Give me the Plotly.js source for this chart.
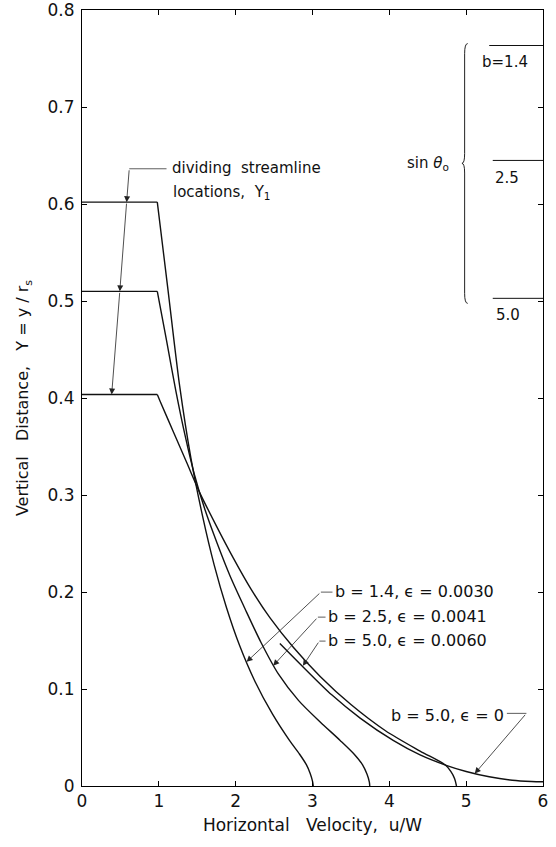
<!DOCTYPE html>
<html>
<head>
<meta charset="utf-8">
<script src="https://cdn.plot.ly/plotly-3.0.1.min.js"></script>
<style>
  html, body { margin: 0; padding: 0; background: #fff; }
  #chart { width: 556px; height: 847px; }
</style>
</head>
<body>
<div id="chart"></div>
<script>
// ---- data ----
// b = 1.4, eps = 0.0030
const u_b14 = [0, 0.98, 1.12, 1.27, 1.42, 1.57, 1.72, 1.88, 2.05, 2.25, 2.48, 2.70, 2.83, 2.92, 2.97, 3.00, 3.01];
const Y_b14 = [0.602, 0.602, 0.511, 0.413, 0.337, 0.278, 0.228, 0.184, 0.145, 0.108, 0.074, 0.047, 0.033, 0.022, 0.013, 0.005, 0];
// b = 2.5, eps = 0.0041
const u_b25 = [0, 0.98, 1.10, 1.22, 1.34, 1.46, 1.60, 1.76, 1.93, 2.12, 2.33, 2.56, 2.82, 3.10, 3.36, 3.54, 3.65, 3.71, 3.74, 3.745];
const Y_b25 = [0.510, 0.510, 0.4595, 0.408, 0.362, 0.322, 0.285, 0.250, 0.216, 0.183, 0.148, 0.115, 0.088, 0.066, 0.047, 0.033, 0.022, 0.012, 0.004, 0];
// b = 5.0, eps = 0.0060
const u_b50 = [0, 0.98, 1.015, 1.19, 1.36, 1.535, 1.75, 1.97, 2.20, 2.45, 2.75, 3.10, 3.50, 3.95, 4.40, 4.73, 4.80, 4.85, 4.874];
const Y_b50 = [0.4036, 0.4036, 0.397, 0.365, 0.334, 0.302, 0.268, 0.235, 0.203, 0.173, 0.143, 0.113, 0.084, 0.057, 0.036, 0.0216, 0.015, 0.0075, 0];
// b = 5.0, eps = 0
const u_b50e0 = [2.575, 2.90, 3.25, 3.62, 4.05, 4.40, 4.73, 5.00, 5.30, 5.60, 5.85, 6.0];
const Y_b50e0 = [0.147, 0.121, 0.094, 0.070, 0.047, 0.032, 0.0216, 0.0150, 0.0095, 0.0060, 0.0047, 0.0044];

// axis ticks
const xTicks = [0, 1, 2, 3, 4, 5, 6];
const xTickText = ['0', '1', '2', '3', '4', '5', '6'];
const yTicks = [0, 0.1, 0.2, 0.3, 0.4, 0.5, 0.6, 0.7, 0.8];
const yTickText = ['0', '0.1', '0.2', '0.3', '0.4', '0.5', '0.6', '0.7', '0.8'];

// sin(theta_0) marks on the right edge
const sinLabels = ['b=1.4', '2.5', '5.0'];
const sinValues = [0.7635, 0.645, 0.5028];

const FONT = 'DejaVu Sans, Liberation Sans, Arial, sans-serif';
const INK = '#111';
const NB = '\u00a0';

const lineStyle = { color: INK, width: 1.4 };
const curves = [
  { u: u_b14, Y: Y_b14, name: 'b=1.4, ε=0.0030', plateau: true },
  { u: u_b25, Y: Y_b25, name: 'b=2.5, ε=0.0041', plateau: true },
  { u: u_b50, Y: Y_b50, name: 'b=5.0, ε=0.0060', plateau: true },
  { u: u_b50e0, Y: Y_b50e0, name: 'b=5.0, ε=0', plateau: false }
];
const traces = [];
curves.forEach(c => {
  if (c.plateau) {
    // flat part up to the dividing streamline, then the smooth profile
    traces.push({ type: 'scatter', mode: 'lines', x: c.u.slice(0, 2), y: c.Y.slice(0, 2), name: c.name,
      line: lineStyle, hoverinfo: 'skip' });
    traces.push({ type: 'scatter', mode: 'lines', x: c.u.slice(1), y: c.Y.slice(1), name: c.name,
      line: Object.assign({ shape: 'spline', smoothing: 0.8 }, lineStyle), hoverinfo: 'skip' });
  } else {
    traces.push({ type: 'scatter', mode: 'lines', x: c.u, y: c.Y, name: c.name,
      line: Object.assign({ shape: 'spline', smoothing: 0.8 }, lineStyle), hoverinfo: 'skip' });
  }
});

const thin = { color: '#333', width: 0.8 };
const shapes = [];
const annotations = [];

function arrow(x, y, ax, ay) {
  annotations.push({
    x: x, y: y, ax: ax, ay: ay, xref: 'x', yref: 'y', axref: 'x', ayref: 'y',
    text: '', showarrow: true, arrowhead: 2, arrowsize: 1.5, arrowwidth: 0.8,
    arrowcolor: '#222', standoff: 0, startstandoff: 0
  });
}
function seg(x0, y0, x1, y1, style) {
  shapes.push({ type: 'line', xref: 'x', yref: 'y', x0: x0, y0: y0, x1: x1, y1: y1, line: style || thin });
}
function label(x, y, text, anchor, size) {
  annotations.push({
    x: x, y: y, xref: 'x', yref: 'y', text: text, showarrow: false,
    xanchor: anchor || 'left', yanchor: 'middle',
    font: { family: FONT, size: size || 16, color: INK }
  });
}

// dividing streamline leader
seg(0.615, 0.6364, 1.10, 0.6364);
arrow(0.581, Y_b14[0], 0.615, 0.6364);
arrow(0.492, Y_b25[0], 0.581, Y_b14[0]);
arrow(0.386, Y_b50[0], 0.492, Y_b25[0]);
label(1.145, 0.6367, 'dividing' + NB + NB + 'streamline', 'left', 15);
label(1.16, 0.612, 'locations,' + NB + ' Y<sub>1</sub>', 'left', 15);

// curve labels
seg(3.109, 0.1999, 3.26, 0.1999);
arrow(2.142, 0.128, 3.109, 0.1999);
label(3.270, 0.2009, 'b = 1.4, ϵ = 0.0030');

seg(3.070, 0.1741, 3.17, 0.1741);
arrow(2.488, 0.124, 3.070, 0.1741);
label(3.180, 0.1752, 'b = 2.5, ϵ = 0.0041');

seg(3.089, 0.1494, 3.17, 0.1494);
arrow(2.875, 0.124, 3.089, 0.1494);
label(3.180, 0.1504, 'b = 5.0, ϵ = 0.0060');

seg(5.53, 0.0749, 5.784, 0.0749);
arrow(5.112, 0.0128, 5.784, 0.0749);
label(5.515, 0.0732, 'b = 5.0, ϵ = 0', 'right');

// sin theta_0 bracket
sinValues.forEach((v, i) => {
  seg(i === 0 ? 5.30 : 5.346, v, 6, v, { color: INK, width: 1 });
});
label(5.502, 0.746, sinLabels[0], 'center', 15);
label(5.528, 0.6274, sinLabels[1], 'center', 15);
label(5.541, 0.4853, sinLabels[2], 'center', 15);
label(4.50, 0.642, 'sin <i>θ</i><sub>o</sub>', 'center', 15);
shapes.push({
  type: 'path', xref: 'x', yref: 'y',
  path: 'M 5.02,0.7655 Q 4.98,0.7655 4.98,0.755 L 4.98,0.652 Q 4.98,0.642 4.945,0.642 Q 4.98,0.642 4.98,0.632 L 4.98,0.508 Q 4.98,0.4976 5.02,0.4976',
  line: { color: '#222', width: 1 }
});

const axisCommon = {
  showgrid: false, zeroline: false, showline: true, linecolor: '#000', linewidth: 1,
  mirror: 'ticks', ticks: 'inside', ticklen: 5, tickwidth: 1, tickcolor: '#000',
  tickfont: { family: FONT, size: 17, color: INK }
};

const layout = {
  width: 556, height: 847,
  margin: { l: 82, r: 13, t: 10, b: 61 },
  paper_bgcolor: '#fff', plot_bgcolor: '#fff',
  showlegend: false,
  font: { family: FONT, color: INK },
  xaxis: Object.assign({}, axisCommon, {
    range: [0, 6], tickmode: 'array', tickvals: xTicks, ticktext: xTickText,
    title: { text: 'Horizontal' + NB + NB + ' Velocity,' + NB + ' u/W', font: { family: FONT, size: 17, color: INK }, standoff: 8 }
  }),
  yaxis: Object.assign({}, axisCommon, {
    range: [0, 0.8001], tickmode: 'array', tickvals: yTicks, ticktext: yTickText,
    ticklabelstandoff: 3,
    title: { text: 'Vertical' + NB + NB + ' Distance,' + NB + NB + ' Y = y / r<sub>s</sub>', font: { family: FONT, size: 16, color: INK }, standoff: 14 }
  }),
  shapes: shapes,
  annotations: annotations
};

Plotly.newPlot('chart', traces, layout, { staticPlot: true, displayModeBar: false });
</script>
</body>
</html>
